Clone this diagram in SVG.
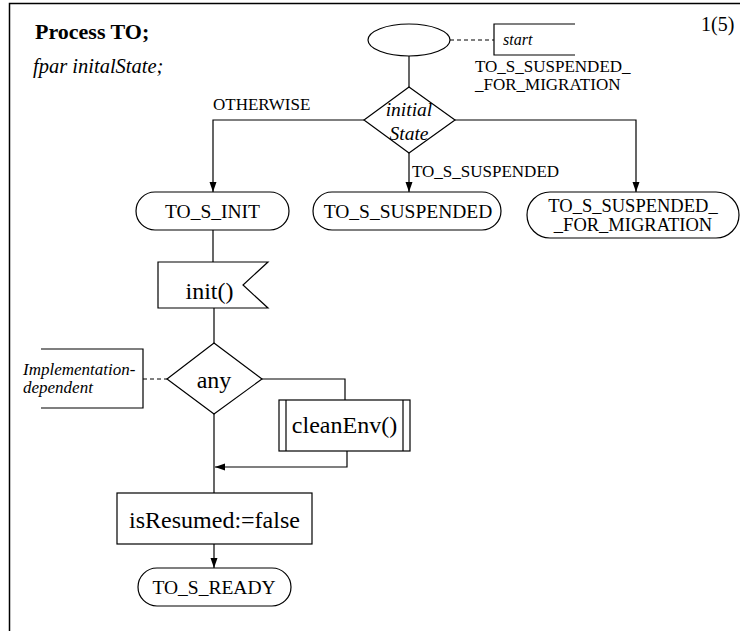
<svg xmlns="http://www.w3.org/2000/svg" width="740" height="631" viewBox="0 0 740 631">
<style>
text{fill:#000}
.sh{fill:#fff;stroke:#000;stroke-width:1.2}
.ln{fill:none;stroke:#000;stroke-width:1.2}
.dash{fill:none;stroke:#000;stroke-width:1;stroke-dasharray:4 3}
.lbl{font-size:17px}
.st{font-size:19.5px;text-anchor:middle}
.big{font-size:24px;text-anchor:middle}
.it{font-style:italic}
</style>
<defs>
<marker id="ah" viewBox="0 0 10 10" refX="10" refY="5" markerWidth="10" markerHeight="10" markerUnits="userSpaceOnUse" orient="auto">
<path d="M0,1.5 L10,5 L0,8.5 Z" fill="#000"/>
</marker>
</defs>
<g font-family="Liberation Serif, DejaVu Serif, Times New Roman, serif">
<path d="M9.5,631 V3.5 H740" fill="none" stroke="#000" stroke-width="1.5"/>
<g id="header">
<text x="35" y="39" font-size="22" font-weight="bold">Process TO;</text>
<text x="33" y="73" font-size="20.5" class="it">fpar initalState;</text>
<text x="701" y="31" font-size="20">1(5)</text>
</g>
<g id="connectors">
<line class="ln" x1="409" y1="56" x2="409" y2="87"/>
<path class="ln" d="M364,120 H213 V192" marker-end="url(#ah)"/>
<path class="ln" d="M409,153 V192" marker-end="url(#ah)"/>
<path class="ln" d="M455,120 H636 V192" marker-end="url(#ah)"/>
<line class="ln" x1="213" y1="230" x2="213" y2="262"/>
<line class="ln" x1="214" y1="308" x2="214" y2="343"/>
<line class="ln" x1="214" y1="414" x2="214" y2="493"/>
<path class="ln" d="M262,379 H345 V400"/>
<path class="ln" d="M347,451 V467 H215" marker-end="url(#ah)"/>
<path class="ln" d="M214,544 V568" marker-end="url(#ah)"/>
<line class="dash" x1="450" y1="40" x2="494" y2="40"/>
<line class="dash" x1="143" y1="379" x2="167" y2="379"/>
<text x="213" y="110" class="lbl">OTHERWISE</text>
<text x="412" y="177" class="lbl">TO_S_SUSPENDED</text>
<text x="475" y="72" class="lbl">TO_S_SUSPENDED_</text>
<text x="475" y="90" class="lbl">_FOR_MIGRATION</text>
</g>
<g id="start">
<ellipse class="sh" cx="409" cy="40" rx="41" ry="16"/>
</g>
<g id="startComment">
<path class="ln" d="M575,24 H494 V55 H575"/>
<text x="503" y="45" font-size="16" class="it">start</text>
</g>
<g id="initialState">
<polygon class="sh" points="409,87 455,120 409,153 364,120"/>
<text x="409" y="116" font-size="19.5" class="it" text-anchor="middle">initial</text>
<text x="409" y="140" font-size="19.5" class="it" text-anchor="middle">State</text>
</g>
<g id="toSInit">
<rect class="sh" x="136" y="192" width="153" height="38" rx="19"/>
<text x="212.5" y="218" class="st">TO_S_INIT</text>
</g>
<g id="toSSuspended">
<rect class="sh" x="313" y="192" width="188" height="38" rx="19"/>
<text x="408" y="218" class="st">TO_S_SUSPENDED</text>
</g>
<g id="toSSuspendedForMigration">
<rect class="sh" x="527" y="192" width="212" height="46" rx="23"/>
<text x="633" y="212" font-size="18.5" text-anchor="middle">TO_S_SUSPENDED_</text>
<text x="633" y="231" font-size="18.5" text-anchor="middle">_FOR_MIGRATION</text>
</g>
<g id="init">
<polygon class="sh" points="158,262 268,262 243,285 268,308 158,308"/>
<text x="209.5" y="299" class="big">init()</text>
</g>
<g id="any">
<polygon class="sh" points="214,343 262,379 214,414 167,379"/>
<text x="214" y="388" class="big">any</text>
</g>
<g id="anyComment">
<path class="ln" d="M41,349 H143 V408 H41"/>
<text x="23" y="375" font-size="17" class="it">Implementation-</text>
<text x="23" y="393" font-size="17" class="it">dependent</text>
</g>
<g id="cleanEnv">
<rect class="sh" x="279" y="400" width="131" height="51"/>
<line class="ln" x1="286" y1="400" x2="286" y2="451"/>
<line class="ln" x1="403" y1="400" x2="403" y2="451"/>
<text x="344.5" y="433" class="big">cleanEnv()</text>
</g>
<g id="isResumed">
<rect class="sh" x="117" y="493" width="195" height="51"/>
<text x="214.5" y="528" class="big">isResumed:=false</text>
</g>
<g id="toSReady">
<rect class="sh" x="138" y="568" width="153" height="38" rx="19"/>
<text x="214" y="594" class="st">TO_S_READY</text>
</g>
</g>
</svg>
